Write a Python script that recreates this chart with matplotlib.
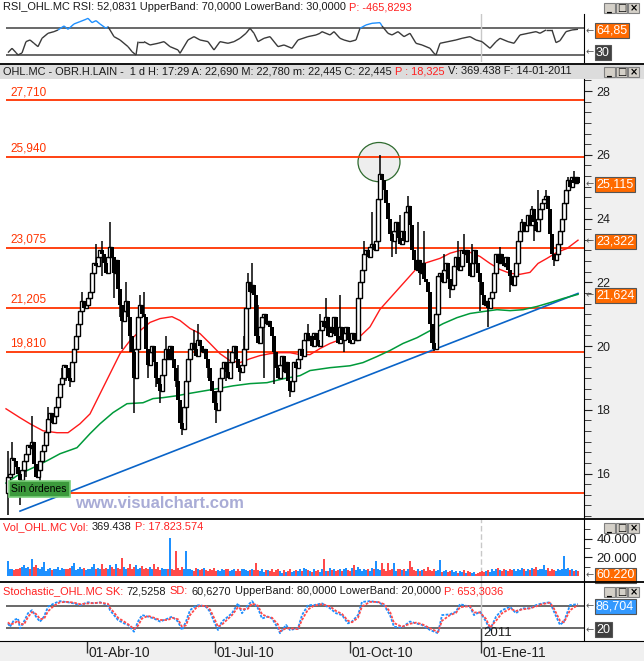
import matplotlib
matplotlib.use("Agg")
import numpy as np
import matplotlib.pyplot as plt
import matplotlib.transforms as mtransforms
from matplotlib.patches import Rectangle, Ellipse
from matplotlib.collections import LineCollection
from matplotlib.ticker import MultipleLocator, FixedLocator

plt.rcParams['font.family'] = ['Liberation Sans', 'DejaVu Sans']

# ---------------- data ----------------
first_open = 15.4
closes = [
    15.9, 16.0, 16.5, 16.4, 16.2, 16.0, 15.8, 16.1, 16.4, 16.6,
    16.9, 16.8, 17.0, 16.3, 15.9, 16.1, 16.4, 16.7, 16.9, 17.3,
    17.7, 17.9, 17.6, 17.8, 18.1, 18.4, 18.8, 19.0, 19.4, 19.3,
    19.0, 18.9, 19.5, 19.9, 20.3, 20.7, 21.1, 21.4, 21.2, 21.3,
    21.5, 21.7, 22.3, 22.6, 22.5, 22.8, 23.0, 22.9, 22.6, 22.3,
    22.8, 23.1, 22.8, 22.3, 22.7, 21.8, 21.3, 20.8, 21.1, 21.4,
    20.9, 20.3, 19.8, 19.0, 19.9, 20.9, 21.3, 21.0, 20.9, 19.9,
    19.4, 19.8, 20.0, 19.5, 19.0, 18.8, 18.6, 19.1, 19.6, 19.9,
    19.6, 20.0, 19.6, 19.3, 18.9, 18.3, 17.6, 17.4, 18.1, 18.9,
    19.6, 19.9, 20.1, 19.9, 19.7, 20.2, 20.0, 19.8, 19.9, 19.6,
    19.3, 18.9, 18.6, 18.2, 18.0, 18.6, 19.0, 19.3, 19.5, 19.2,
    19.0, 19.5, 19.8, 20.0, 19.6, 19.3, 19.2, 19.4, 19.9, 21.2,
    22.0, 21.7, 21.9, 21.6, 20.3, 20.1, 20.6, 20.9, 21.0, 20.7,
    20.8, 20.6, 20.3, 19.8, 19.3, 19.0, 19.4, 19.7, 19.2, 19.5,
    18.9, 18.6, 18.9, 19.5, 19.3, 19.6, 19.9, 19.7, 20.2, 20.4,
    20.2, 20.3, 20.0, 20.4, 20.2, 20.0, 20.5, 20.8, 20.6, 20.9,
    20.3, 20.6, 20.4, 20.9, 20.3, 20.1, 20.6, 20.2, 20.4, 20.6,
    20.2, 20.1, 20.4, 20.2, 20.2, 21.5, 22.0, 22.4, 22.9, 23.0,
    22.8, 23.1, 23.2, 23.0, 23.3, 24.6, 25.4, 25.2, 24.9, 24.5,
    24.0, 23.5, 23.3, 23.6, 23.9, 23.4, 23.2, 23.6, 23.3, 24.2,
    24.4, 23.8, 23.0, 22.7, 22.4, 22.7, 22.3, 22.6, 22.1, 22.0,
    21.7, 20.7, 20.1, 19.9, 21.0, 22.2, 22.3, 22.0, 22.4, 22.6,
    22.1, 21.8, 21.9, 22.5, 22.8, 22.4, 22.5, 23.0, 22.9, 23.0,
    22.6, 22.2, 22.6, 23.0, 22.6, 22.3, 22.0, 21.6, 21.3, 21.4,
    21.2, 21.5, 21.7, 22.3, 22.9, 22.6, 22.9, 22.6, 22.5, 22.8,
    22.4, 22.2, 21.9, 22.2, 22.6, 23.3, 23.6, 23.9, 23.6, 23.8,
    24.1, 23.8, 24.3, 23.9, 23.6, 24.0, 24.3, 24.5, 24.6, 24.7,
    24.3, 23.5, 22.9, 22.7, 22.9, 23.2, 23.6, 24.0, 24.5, 24.9,
    25.2, 25.0, 25.3, 25.1, 25.3, 25.115,
]
wick_high = {0: 16.7, 2: 17.0, 12: 17.8, 20: 18.1, 27: 19.3, 37: 21.7, 44: 23.2,
             47: 23.3, 51: 23.9, 59: 22.0, 66: 21.6, 68: 21.7, 79: 20.3, 85: 19.4,
             93: 20.5, 95: 20.7, 110: 19.9, 118: 20.3, 120: 22.3, 122: 22.6, 125: 21.3,
             150: 20.7, 156: 21.0, 159: 21.5, 166: 21.6, 178: 23.3, 182: 24.2,
             186: 26.0, 196: 24.1, 200: 24.7, 205: 23.9, 208: 23.6, 218: 22.9,
             225: 23.3, 228: 23.5, 232: 23.2, 246: 23.1, 257: 24.0, 262: 24.4,
             265: 24.9, 269: 24.9, 280: 25.3, 283: 25.5}
wick_low = {0: 14.7, 6: 15.0, 9: 15.9, 16: 15.7, 29: 18.9, 31: 18.7, 47: 22.2,
            53: 21.5, 56: 20.9, 57: 19.9, 61: 19.8, 63: 17.9, 70: 19.0, 74: 18.7,
            76: 18.2, 84: 18.7, 87: 17.2, 100: 19.0, 104: 17.6, 109: 18.9, 116: 18.9,
            128: 19.0, 133: 18.8, 141: 18.4, 144: 19.0, 168: 19.8, 192: 22.8,
            194: 22.9, 206: 21.9, 213: 19.85, 221: 21.5, 236: 21.1, 240: 20.6,
            251: 21.7, 263: 23.3, 273: 22.5}

volume = [
    16, 7, 7, 6, 7.5, 7, 8.5, 10, 12, 8.5,
    10, 7, 18.5, 10, 12, 8.5, 7, 10, 15, 5,
    7, 9, 6, 8, 7, 10, 6, 9, 8, 7,
    8, 9, 11, 14, 6, 8, 10, 7, 9, 6,
    8, 7, 10, 13, 7, 9, 8, 13, 7, 9,
    8, 12, 10, 8, 13, 9, 8, 19, 10, 7,
    9, 13, 8, 10, 12, 7, 9, 11, 8, 9,
    7, 10, 8, 13, 7, 10, 6, 9, 8, 7,
    8, 41, 7, 6, 27, 9, 6, 10, 8, 27,
    8, 7, 6, 5, 9, 7, 6, 8, 9, 6,
    5, 7, 6, 9, 5, 6, 5, 8, 6, 7,
    7, 5, 6, 8, 5, 7, 5, 7, 8, 6,
    5, 6, 7, 6, 14, 6, 5, 7, 4, 6,
    6, 5, 7, 4, 6, 7, 5, 3, 6, 4,
    5, 7, 4, 5, 6, 5, 7, 5, 9, 8,
    6, 5, 4, 7, 5, 6, 4, 8, 18, 5,
    5, 9, 6, 7, 5, 6, 8, 5, 7, 9,
    6, 5, 9, 12, 6, 10, 7, 5, 8, 6,
    7, 5, 9, 8, 16, 7, 6, 14, 8, 5,
    14, 6, 7, 14, 5, 8, 7, 6, 8, 5,
    7, 16, 10, 6, 5, 7, 5, 6, 8, 5,
    10, 6, 5, 7, 5, 6, 17, 4, 5, 6,
    4, 5, 6, 4, 5, 3, 5, 4, 6, 3,
    5, 4, 3, 4, 2, 3, 4, 5, 4, 5,
    6, 4, 8, 5, 7, 9, 6, 5, 8, 6,
    5, 8, 6, 7, 5, 8, 6, 9, 7, 5,
    8, 6, 9, 7, 10, 6, 8, 7, 12, 6,
    9, 5, 7, 6, 5, 8, 6, 7, 21, 8,
    9, 6, 7, 5, 6, 5,
]

levels = [27.71, 25.94, 23.075, 21.205, 19.81, 15.39]
level_labels = ['27,710', '25,940', '23,075', '21,205', '19,810', '']

ma_red_t = [-1, 6, 11, 17.5, 24.5, 30, 36, 41, 46, 51, 56, 61, 66, 71, 76, 82, 86, 91,
            96, 101, 106, 111, 116, 121, 126, 131, 136, 141, 146, 151, 156, 161, 166,
            171, 176, 181, 186, 191, 196, 201, 206, 211, 216, 221, 226, 231, 236, 241,
            246, 251, 256, 261, 265, 269.5, 274.5, 279.5, 285]
ma_red_v = [18.03, 17.75, 17.56, 17.34, 17.28, 17.28, 17.56, 17.87, 18.50, 19.13,
            19.76, 20.17, 20.48, 20.74, 20.86, 20.92, 20.80, 20.55, 20.39, 20.08,
            19.76, 19.54, 19.48, 19.60, 19.70, 19.76, 19.79, 19.79, 19.73, 19.73,
            19.92, 20.08, 20.20, 20.26, 20.30, 20.60, 21.15, 21.50, 21.85, 22.20,
            22.55, 22.65, 22.75, 22.91, 23.00, 22.94, 22.81, 22.59, 22.40, 22.28,
            22.25, 22.31, 22.59, 22.75, 22.94, 23.06, 23.32]
ma_grn_t = [-1, 6, 12.5, 19.5, 26, 34.5, 41, 46, 52.5, 59.5, 67.5, 72.5, 77.5, 84.5,
            89.5, 96, 104.5, 112.5, 121, 129.5, 137.5, 146, 151, 161, 171, 177.5,
            184.5, 191, 197.5, 204.5, 211, 217.5, 224.5, 231, 237.5, 244.5, 251,
            257.5, 264.5, 271, 277.5, 285]
ma_grn_v = [15.70, 15.99, 16.18, 16.40, 16.62, 16.81, 17.25, 17.56, 17.91, 18.19,
            18.22, 18.35, 18.38, 18.44, 18.50, 18.57, 18.66, 18.75, 18.82, 18.85,
            18.97, 19.07, 19.23, 19.32, 19.38, 19.48, 19.67, 19.86, 20.08, 20.26,
            20.48, 20.70, 20.89, 21.02, 21.08, 21.14, 21.11, 21.14, 21.24, 21.36,
            21.49, 21.62]
trend_t = [6, 285]
trend_v = [14.82, 21.65]

rsi_t = [0, 2, 4, 5, 7, 9, 11, 13, 15, 17, 20, 23, 25, 28, 30, 33, 36, 39, 40, 42,
         44, 46, 49, 50, 53, 56, 60, 62, 64, 65, 68, 71, 75, 78, 81, 85, 86, 90, 93, 96,
         100, 103, 106, 110, 113, 116, 119, 121, 123, 125, 128, 131, 135, 138, 142, 145,
         150, 154, 156, 157, 161, 163, 166, 168, 171, 174, 176, 179, 182, 186, 187, 190,
         192, 195, 198, 201, 204, 207, 211, 213, 214, 216, 220, 224, 227, 231, 234, 237,
         241, 244, 246, 250, 253, 256, 260, 264, 266, 269, 272, 274, 276, 279, 282, 285]
rsi_v = [33.5, 40, 33.5, 30, 33, 50, 52.5, 47.5, 42.5, 55, 62.5, 65, 67.5, 73.5, 68.5,
         76.5, 80, 83.5, 85, 78.5, 81.5, 76.5, 70, 72.5, 57.5, 52.5, 42.5, 35, 30, 50,
         50, 45, 47.5, 50, 42.5, 37.5, 32.5, 52.5, 57.5, 52.5, 50, 37.5, 50, 47.5, 50,
         55, 62.5, 70, 62.5, 50, 55, 57.5, 42.5, 45, 40, 52.5, 57.5, 60, 62.5, 65, 60,
         65, 55, 52.5, 50, 52.5, 70, 75, 77.5, 78.5, 73.5, 62.5, 60, 65, 57.5, 62.5,
         47.5, 45, 40, 32.5, 30, 47.5, 50, 52.5, 55, 57.5, 52.5, 50, 40, 50, 55, 50,
         47.5, 60, 62.5, 65, 62.5, 67.5, 67.5, 48.5, 51.5, 65, 67.5, 68.5]

stoch_t = [0, 1, 3, 5, 6, 8, 10, 12, 14, 16, 18, 20, 23, 26, 30, 33, 36, 40, 43, 46,
           50, 51, 53, 55, 58, 60, 63, 65, 67, 70, 73, 76, 80, 82, 85, 87, 89, 91, 94, 96,
           99, 101, 103, 105, 107, 110, 112, 115, 117, 120, 122, 125, 127, 130, 132, 135,
           136, 139, 141, 145, 147, 150, 153, 157, 161, 164, 167, 170, 172, 175, 177, 181,
           185, 188, 191, 193, 197, 201, 204, 207, 211, 215, 217, 221, 224, 226, 231, 233,
           236, 239, 241, 244, 247, 251, 254, 257, 261, 264, 267, 271, 273, 276, 278, 281,
           285]
sk_v = [33, 24, 42, 46, 20, 38, 60, 68, 51, 37.5, 51, 77, 86, 92, 89, 86, 81.5, 89, 86,
        89, 81.5, 68, 55, 42, 33, 29, 11, 38, 55, 51, 46, 38, 46, 51, 38, 15.5, 38, 68,
        80, 81.5, 77, 64, 38, 15.5, 38, 51, 60, 86, 60, 81.5, 92, 73, 46, 51, 46, 20, 7,
        29, 15.5, 20, 55, 81.5, 81.5, 86, 73, 60, 55, 33, 38, 55, 90, 92, 89, 81.5, 55,
        24, 22, 38, 33, 29, 15.5, 7, 55, 57, 64, 84, 77, 55, 64, 38, 15.5, 51, 68, 77,
        60, 73, 73, 81.5, 86, 89, 64, 29, 38, 81.5, 84]
sd_v = [36, 30, 33, 40, 32, 30, 50, 63, 58, 45, 45, 65, 80, 89, 90, 88, 84, 86, 87, 88,
        85, 74, 62, 48, 38, 31, 18, 27, 46, 53, 48, 42, 42, 48, 44, 24, 28, 55, 74, 80,
        79, 70, 48, 24, 30, 45, 55, 76, 70, 72, 86, 80, 57, 50, 48, 30, 12, 20, 20, 18,
        42, 70, 80, 84, 78, 66, 58, 40, 36, 48, 78, 90, 90, 84, 64, 34, 24, 32, 35, 31,
        20, 10, 40, 55, 61, 76, 79, 62, 62, 45, 22, 40, 60, 72, 66, 70, 73, 78, 84, 88,
        72, 40, 36, 68, 82]

date_ticks = [39.5, 103.5, 171, 236.5]
date_labels = ['01-Abr-10', '01-Jul-10', '01-Oct-10', '01-Ene-11']
year_mark = 236.5
last_labels = [(25.115, '25,115'), (23.322, '23,322'), (21.624, '21,624')]

# ---------------- layout helpers ----------------
W, H = 644, 661
fig = plt.figure(figsize=(W / 100, H / 100), dpi=100)
fig.patch.set_facecolor('white')
XL = (-4, 288)
RED_LVL = '#ff3300'
ORANGE = '#ff6a00'
DARK = '#404040'


def px(x0, y0, x1, y1):
    return [x0 / W, 1 - y1 / H, (x1 - x0) / W, (y1 - y0) / H]


def only_right(a):
    for s in ['left', 'top', 'bottom']:
        a.spines[s].set_visible(False)
    a.spines['right'].set_color('black')
    a.set_xticks([])
    a.yaxis.tick_right()
    a.set_xlim(*XL)


def side_box(a, v, s, fc, dy=0.0):
    tr = mtransforms.blended_transform_factory(a.transAxes, a.transData)
    tr = tr + mtransforms.ScaledTranslation(0, -dy / 100, fig.dpi_scale_trans)
    a.text(596 / 584, v, s, transform=tr, ha='left', va='center', color='white',
           fontsize=9, clip_on=False, zorder=10,
           bbox=dict(boxstyle='square,pad=0.12', fc=fc, ec='#555555', lw=0.8))
    a.text(585.5 / 584, v, '←', transform=tr, ha='left', va='center', color='#555555',
           fontsize=7, family='DejaVu Sans', clip_on=False, zorder=10)


# background pieces
bg = fig.add_axes([0, 0, 1, 1], zorder=0)
bg.set_xlim(0, W)
bg.set_ylim(H, 0)
bg.axis('off')
bg.add_patch(Rectangle((584, 79), 60, 439, fc='#f0f0f0', ec='none'))
bg.add_patch(Rectangle((0, 64), W, 15, fc='#dcdcdc', ec='none'))
bg.add_patch(Rectangle((0, 641), W, 20, fc='#f0f0f0', ec='none'))

# ---------------- main price panel ----------------
ax = fig.add_axes(px(0, 79, 584, 518), zorder=1)
only_right(ax)
ax.set_facecolor('white')
ax.set_ylim(14.604, 28.377)
ax.yaxis.set_major_locator(MultipleLocator(2))
ax.yaxis.set_minor_locator(MultipleLocator(1 / 3))
ax.tick_params(axis='y', which='major', direction='out', length=6, labelsize=9,
               pad=3, colors='#202020')
ax.tick_params(axis='y', which='minor', direction='out', length=5, colors='#202020')

t = np.arange(len(closes))
c = np.array(closes)
o = np.array([first_open] + closes[:-1])
hi = np.maximum(o, c)
lo = np.minimum(o, c)
for b, v in wick_high.items():
    hi[b] = max(hi[b], v)
for b, v in wick_low.items():
    lo[b] = min(lo[b], v)
up = c >= o
body_lo = np.minimum(o, c)
body_h = np.maximum(np.abs(c - o), 0.05)

ax.add_patch(Ellipse((185.5, 25.77), 21, 1.23, fc='#eeeeee', ec='#2f6b2f', lw=0.9, zorder=1.5))
for v, lab in zip(levels, level_labels):
    ax.hlines(v, -1, XL[1], color=RED_LVL, lw=1.3, zorder=2)
    if lab:
        ax.text(1, v + 0.07, lab, color=RED_LVL, fontsize=8.5, ha='left', va='bottom')
ax.plot(trend_t, trend_v, color='#0a64c8', lw=1.2, zorder=2.2)
ax.plot(ma_grn_t, ma_grn_v, color='#009a3a', lw=1.1, zorder=2.3)
ax.plot(ma_red_t, ma_red_v, color='#ff1a1a', lw=1.0, zorder=2.4)

ax.vlines(t, lo, hi, color='black', lw=1.1, zorder=3)
ax.bar(t[up], body_h[up], bottom=body_lo[up], width=1.7, facecolor='white',
       edgecolor='black', lw=1.0, zorder=4)
ax.bar(t[~up], body_h[~up], bottom=body_lo[~up], width=1.7, color='black', lw=0, zorder=5)

for v, s in last_labels:
    side_box(ax, v, s, ORANGE, dy=1.5)

# ---------------- RSI panel ----------------
ar = fig.add_axes(px(0, 14, 584, 62), zorder=1)
only_right(ar)
ar.set_ylim(19.45, 91.45)
ar.set_yticks([])
ar.hlines([70, 30], -1, XL[1], color=DARK, lw=1.1)
ar.axvline(year_mark, color='#c8c8c8', lw=1)
pts = np.column_stack([rsi_t, rsi_v])
segs = np.stack([pts[:-1], pts[1:]], axis=1)
mid = (np.array(rsi_v[:-1]) + np.array(rsi_v[1:])) / 2
cols = ['#1e90ff' if m > 70 else ('#ff3030' if m <= 30.5 else '#3a3a3a') for m in mid]
ar.add_collection(LineCollection(segs, colors=cols, linewidths=1.0, zorder=3))
side_box(ar, 66, '64,85', ORANGE)
side_box(ar, 33.7, '30', DARK)

# ---------------- volume panel ----------------
av = fig.add_axes(px(0, 519, 584, 581), zorder=1)
only_right(av)
av.set_ylim(-5.35, 61)
vcol = np.where(up, '#1e90ff', '#ff4a4a')
av.bar(t, volume, width=0.55, color=vcol, lw=0, zorder=3)
av.axvline(year_mark, color='#c8c8c8', lw=1, ls=(0, (4, 2)))
av.yaxis.set_major_locator(FixedLocator([20, 40]))
av.yaxis.set_minor_locator(FixedLocator([10, 30, 50]))
av.set_yticklabels(['20.000', '40.000'])
av.tick_params(axis='y', which='major', direction='out', length=6, labelsize=9.5,
               pad=3, colors='#202020')
av.tick_params(axis='y', which='minor', direction='out', length=4, colors='#202020')
side_box(av, 1, '60.220', ORANGE)

# ---------------- stochastic panel ----------------
ast = fig.add_axes(px(0, 582, 584, 641), zorder=1)
only_right(ast)
ast.set_ylim(-13.7, 142.8)
ast.set_yticks([])
ast.hlines([80, 20], -1, XL[1], color=DARK, lw=1.1)
ast.axvline(year_mark, color='#c8c8c8', lw=1)
ast.vlines(year_mark, -13.7, 20, color=DARK, lw=1)
ast.plot(stoch_t, sk_v, color='#1e90ff', lw=1.3, ls=(0, (1.5, 0.8)), zorder=3)
ast.plot(stoch_t, sd_v, color='#ff4a4a', lw=1.3, ls=(0, (1.5, 0.8)), zorder=4)
ast.text(year_mark + 1, 7, '2011', fontsize=9.5, color='#202020', ha='left', va='center')
side_box(ast, 79, '86,704', '#3399ff')
side_box(ast, 15.5, '20', DARK)

# ---------------- date axis ----------------
ad = fig.add_axes(px(0, 641, 644, 661), zorder=1)
ad.set_facecolor('#f0f0f0')
ad.set_xlim(XL[0], XL[1] + 30)
ad.set_ylim(0, 1)
ad.set_xticks([])
ad.set_yticks([])
for s in ['left', 'right', 'bottom']:
    ad.spines[s].set_visible(False)
ad.spines['top'].set_color('black')
ad.vlines(date_ticks, 0.42, 1, color='#303030', lw=1)
for d, lab in zip(date_ticks, date_labels):
    ad.text(d + 1, 0.38, lab, fontsize=10, color='#202020', ha='left', va='center')

# ---------------- overlay: headers, buttons, separators ----------------
top = fig.add_axes([0, 0, 1, 1], zorder=6)
top.set_xlim(0, W)
top.set_ylim(H, 0)
top.axis('off')

for y in [63.5, 518.5, 581.5]:
    top.plot([0, W], [y, y], color='black', lw=1.3)

renderer = fig.canvas.get_renderer()


def rich(y, parts, x=3, size=7.9):
    for s, col in parts:
        tx = top.text(x, y, s, color=col, fontsize=size, ha='left', va='center')
        x += tx.get_window_extent(renderer).width + 3.5


RED_TXT = '#ff2020'
INK = '#1a1a1a'
rich(7, [('RSI_OHL.MC RSI: 52,0831 UpperBand: 70,0000 LowerBand: 30,0000', INK),
         ('P: -465,8293', RED_TXT)])
rich(71.5, [('OHL.MC - OBR.H.LAIN -  1 d H: 17:29 A: 22,690 M: 22,780 m: 22,445 C: 22,445', INK),
            ('P : 18,325', RED_TXT), ('V: 369.438 F: 14-01-2011', INK)])
rich(527, [('Vol_OHL.MC Vol:', RED_TXT), ('369.438', INK), ('P: 17.823.574', RED_TXT)])
rich(591, [('Stochastic_OHL.MC SK:', RED_TXT), ('72,5258', INK), ('SD:', RED_TXT),
           ('60,6270', INK), ('UpperBand: 80,0000 LowerBand: 20,0000', INK),
           ('P: 653,3036', RED_TXT)])


def buttons(y0):
    for i, g in enumerate(['_', '□', '×']):
        x0 = 604 + 12 * i
        top.add_patch(Rectangle((x0, y0), 11, 10, fc='#d4d0c8', ec='#808080', lw=0.8))
        top.text(x0 + 5.5, y0 + 5, g, fontsize=7, ha='center', va='center',
                 color='black', family='DejaVu Sans', fontweight='bold')


for yb in [3, 67, 523, 587]:
    buttons(yb)

top.add_patch(Rectangle((9, 481), 61, 16, fc='#3c9a3c', ec='#7ccf7c', lw=1.2))
top.text(11, 489, 'Sin órdenes', fontsize=7.5, color='black', ha='left', va='center')
top.text(75, 503, 'www.visualchart.com', fontsize=12, fontweight='bold', color='#a9acd6',
         ha='left', va='center')

fig.savefig('out.png', dpi=100)
